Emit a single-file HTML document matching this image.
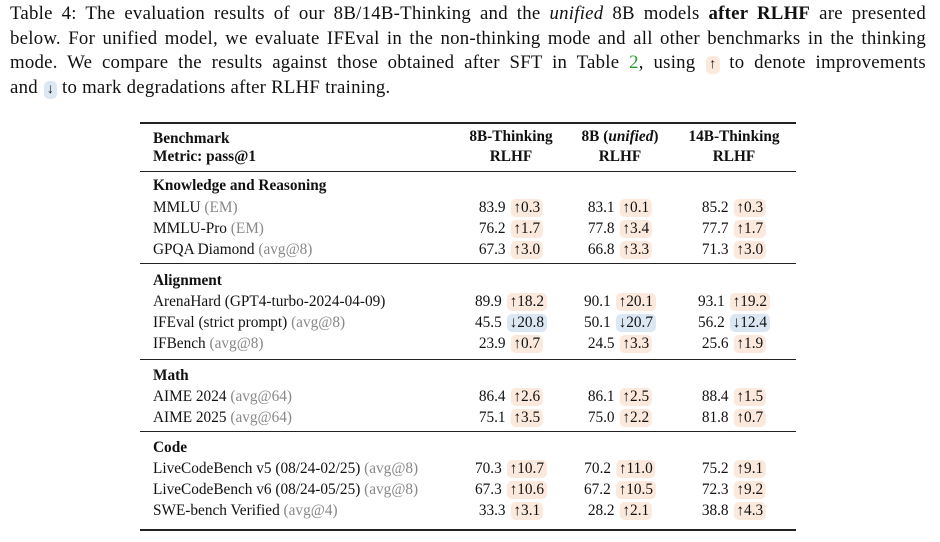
<!DOCTYPE html>
<html><head><meta charset="utf-8">
<style>
html,body{margin:0;padding:0;background:#fff;}
body{width:940px;height:542px;position:relative;overflow:hidden;font-family:"Liberation Serif",serif;color:#111;}
#cap{position:absolute;left:10px;top:2px;width:916px;font-size:18.8px;line-height:24.5px;text-align:justify;letter-spacing:0.25px;}
#cap .l{display:block;text-align:justify;text-align-last:justify;white-space:nowrap;}
#cap .l.last{text-align-last:left;}
.ref{color:#2a9a2a;}
.rule{position:absolute;left:140px;width:656px;background:#222;}
.t{position:absolute;font-size:15.3px;white-space:nowrap;line-height:20px;}
.b{font-weight:bold;}
.g{color:#888;}
.cell{position:absolute;font-size:15.3px;white-space:nowrap;line-height:20px;transform:translateX(-50%);}
.bd{display:inline-block;border-radius:5px;padding:0 3px;line-height:18px;margin-left:1px;}
.up{background:#fbe9dd;}
.dn{background:#dce7f4;}
</style></head>
<body>
<div id="cap">
<span class="l">Table 4: The evaluation results of our 8B/14B-Thinking and the <i>unified</i> 8B models <b>after RLHF</b> are presented</span>
<span class="l">below. For unified model, we evaluate IFEval in the non-thinking mode and all other benchmarks in the thinking</span>
<span class="l">mode. We compare the results against those obtained after SFT in Table <span class="ref">2</span>, using <span class="bd up" style="font-size:14px">↑</span> to denote improvements</span>
<span class="l last">and <span class="bd dn" style="font-size:14px">↓</span> to mark degradations after RLHF training.</span>
</div>
<div class="rule" style="top:122px;height:2px"></div>
<div class="rule" style="top:171px;height:1.3px"></div>
<div class="rule" style="top:263px;height:1.3px"></div>
<div class="rule" style="top:359px;height:1.3px"></div>
<div class="rule" style="top:431px;height:1.3px"></div>
<div class="rule" style="top:529px;height:2px"></div>
<div class="t b" style="left:153px;top:129px">Benchmark</div>
<div class="t b" style="left:153px;top:147px">Metric: pass@1</div>
<div class="cell b" style="left:511px;top:127px;text-align:center">8B-Thinking<br>RLHF</div>
<div class="cell b" style="left:620px;top:127px;text-align:center">8B (<i>unified</i>)<br>RLHF</div>
<div class="cell b" style="left:734px;top:127px;text-align:center">14B-Thinking<br>RLHF</div>
<script>
const sections=[["Knowledge and Reasoning",176],["Alignment",271],["Math",366],["Code",438]];
const names=["MMLU","MMLU-Pro","GPQA Diamond","ArenaHard (GPT4-turbo-2024-04-09)","IFEval (strict prompt)","IFBench","AIME 2024","AIME 2025","LiveCodeBench v5 (08/24-02/25)","LiveCodeBench v6 (08/24-05/25)","SWE-bench Verified"];
const notes=["(EM)","(EM)","(avg@8)","","(avg@8)","(avg@8)","(avg@64)","(avg@64)","(avg@8)","(avg@8)","(avg@4)"];
const rowTops=[198,219,240,292,313,334,387,408,459,480,501];
const v8t=["83.9","76.2","67.3","89.9","45.5","23.9","86.4","75.1","70.3","67.3","33.3"];
const d8t=["+0.3","+1.7","+3.0","+18.2","-20.8","+0.7","+2.6","+3.5","+10.7","+10.6","+3.1"];
const v8u=["83.1","77.8","66.8","90.1","50.1","24.5","86.1","75.0","70.2","67.2","28.2"];
const d8u=["+0.1","+3.4","+3.3","+20.1","-20.7","+3.3","+2.5","+2.2","+11.0","+10.5","+2.1"];
const v14=["85.2","77.7","71.3","93.1","56.2","25.6","88.4","81.8","75.2","72.3","38.8"];
const d14=["+0.3","+1.7","+3.0","+19.2","-12.4","+1.9","+1.5","+0.7","+9.1","+9.2","+4.3"];
const cols=[[v8t,d8t,511],[v8u,d8u,620],[v14,d14,734]];
sections.forEach(s=>{const e=document.createElement('div');e.className='t b';e.style.left='153px';e.style.top=s[1]+'px';e.textContent=s[0];


document.body.appendChild(e);});
names.forEach((n,i)=>{const e=document.createElement('div');e.className='t';e.style.left='153px';e.style.top=rowTops[i]+'px';
e.innerHTML=n+(notes[i]?' <span class="g">'+notes[i]+'</span>':'');


document.body.appendChild(e);
cols.forEach(c=>{const d=c[1][i];const up=d[0]==='+';const x=document.createElement('div');x.className='cell';x.style.left=c[2]+'px';x.style.top=rowTops[i]+'px';
x.innerHTML=c[0][i]+' <span class="bd '+(up?'up':'dn')+'">'+(up?'↑':'↓')+d.slice(1)+'</span>';


document.body.appendChild(x);});});
</script>
</body></html>
